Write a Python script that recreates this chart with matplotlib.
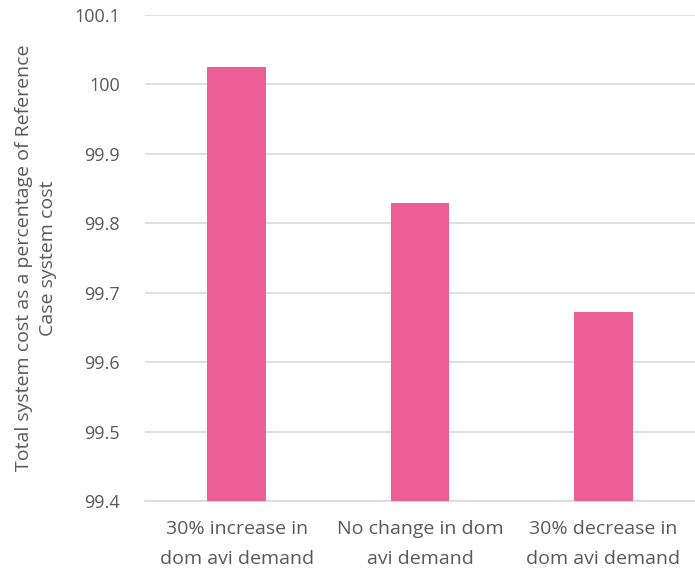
import matplotlib
matplotlib.use("Agg")
import matplotlib.pyplot as plt

categories = ["30% increase in\ndom avi demand", "No change in dom\navi demand", "30% decrease in\ndom avi demand"]
values = [100.025, 99.829, 99.672]
yticks = [99.4, 99.5, 99.6, 99.7, 99.8, 99.9, 100.0, 100.1]
ytick_labels = ["99.4", "99.5", "99.6", "99.7", "99.8", "99.9", "100", "100.1"]

plt.rcParams["font.family"] = ["Open Sans", "DejaVu Sans"]
text_color = "#595959"

fig = plt.figure(figsize=(6.95, 5.76), dpi=100)
ax = fig.add_axes([0.2086, 0.1302, 0.7914, 0.8438])

x = range(len(categories))
ax.bar(x, values, width=0.32, color="#EC5F96", zorder=3, bottom=0)
ax.set_ylim(99.4, 100.1)
ax.set_xlim(-0.5, 2.5)
ax.set_yticks(yticks)
ax.set_yticklabels(ytick_labels)
ax.set_xticks(list(x))
ax.set_xticklabels(categories, fontsize=14, linespacing=1.85)

ax.grid(axis="y", color="#D9D9D9", linewidth=1.2, zorder=0)
for s in ["top", "right", "left"]:
    ax.spines[s].set_visible(False)
ax.spines["bottom"].set_color("#D9D9D9")
ax.spines["bottom"].set_linewidth(1.2)
ax.tick_params(axis="both", length=0, colors=text_color)
ax.tick_params(axis="y", labelsize=13, pad=18)
ax.tick_params(axis="x", pad=14)

ax.set_ylabel("Total system cost as a percentage of Reference\nCase system cost",
              fontsize=14, color=text_color, linespacing=1.4)
ax.yaxis.set_label_coords(-0.16, 0.5)

fig.savefig("out.png", dpi=100)
